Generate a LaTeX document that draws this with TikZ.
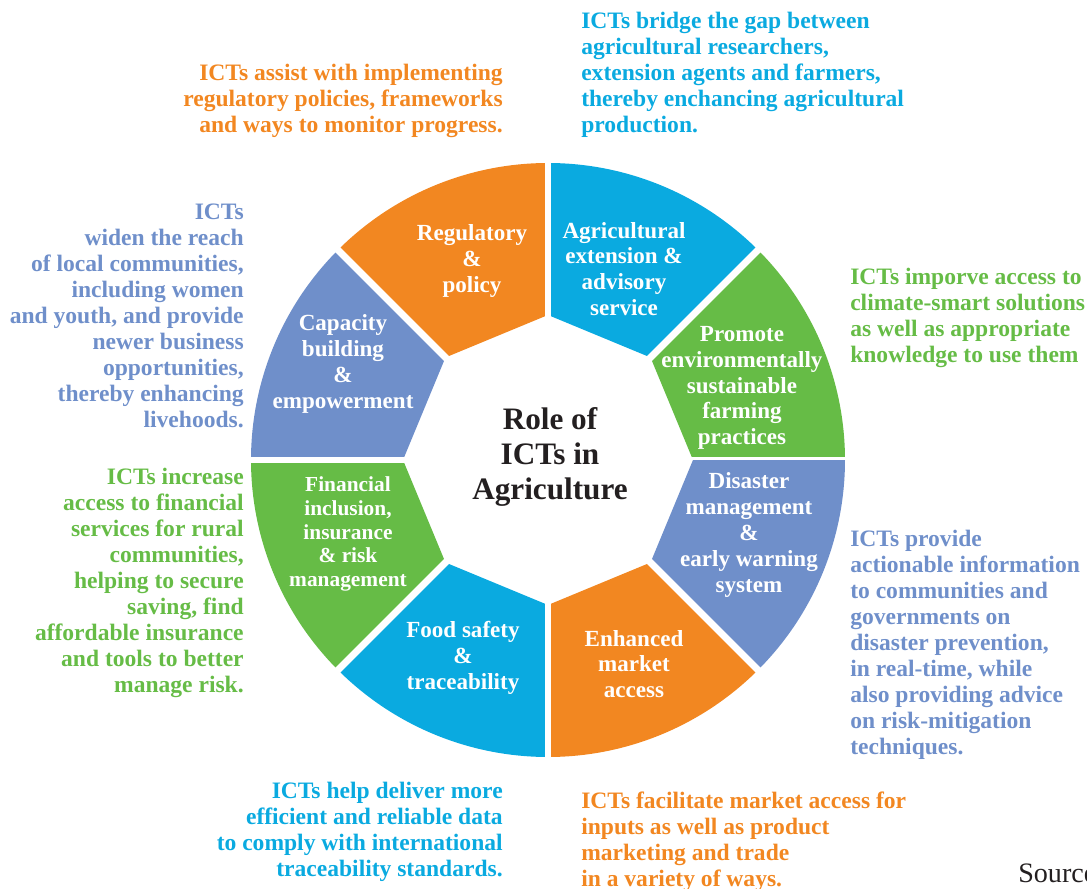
\documentclass[tikz,border=0pt]{standalone}
\usepackage{fontspec}
\setmainfont{Liberation Serif}
\usepackage{xcolor}
\usetikzlibrary{positioning}
\definecolor{RingOrange}{HTML}{F28721}
\definecolor{RingBlue}{HTML}{0AAAE0}
\definecolor{RingGreen}{HTML}{66BC46}
\definecolor{RingSlate}{HTML}{6F8FCA}
\definecolor{TitleText}{HTML}{231F20}
\tikzset{
  ringpart/.style={
    draw=none,
  },
  gapline/.style={
    draw=white,
    line width=4.8pt,
  },
  partlabel/.style={
    inner sep=0pt,
    align=center,
    text=white,
    font=\bfseries\fontsize{16.4}{18.4}\selectfont,
  },
  notetext/.style={
    inner sep=0pt,
    font=\bfseries\fontsize{16.75}{18.5}\selectfont,
  }
}

\begin{document}
\begin{tikzpicture}[x=0.025cm, y=0.025cm]
  \useasboundingbox (-548,-429) rectangle (539,460);

  % ring segments: start angle / colour
  \foreach \a/\c in {0/RingGreen, 45/RingBlue, 90/RingOrange, 135/RingSlate,
                     180/RingGreen, 225/RingBlue, 270/RingOrange, 315/RingSlate} {
    \fill[ringpart, \c] (\a:145) -- (\a:297)
      arc[start angle=\a, end angle=\a+45, radius=297]
      -- (\a+45:145) -- cycle;
    \draw[gapline] (0,0) -- (\a:305);
  }

  \node[
    inner sep=0pt,
    align=center,
    text=TitleText,
    font=\bfseries\fontsize{22.2}{24.8}\selectfont
  ] (title) at (2,3) {Role of\\ICTs in\\Agriculture};

  \node[partlabel] (regulatory) at (-76,199) {Regulatory\\\&\\policy};
  \node[partlabel] (extension) at (76,191) {Agricultural\\extension \&\\advisory\\service};
  \node[partlabel] (promote) at (194,72) {Promote\\environmentally\\sustainable\\farming\\practices};
  \node[partlabel] (disaster) at (201,-75) {Disaster\\management\\\&\\early warning\\system};
  \node[partlabel] (market) at (86,-204) {Enhanced\\market\\access};
  \node[partlabel] (food) at (-85,-198) {Food safety\\\&\\traceability};
  \node[
    partlabel,
    font=\bfseries\fontsize{15.2}{17}\selectfont
  ] (finance) at (-200,-74) {Financial\\inclusion,\\insurance\\\& risk\\management};
  \node[partlabel] (capacity) at (-205,96) {Capacity\\building\\\&\\empowerment};

  % descriptions around the ring
  \node[notetext, text=RingOrange, align=right, anchor=north east] (regnote) at (-45,396) {
    ICTs assist with implementing\\
    regulatory policies, frameworks\\
    and ways to monitor progress.};
  \node[notetext, text=RingBlue, align=left, anchor=north west] (extnote) at (33,448) {
    ICTs bridge the gap between\\
    agricultural researchers,\\
    extension agents and farmers,\\
    thereby enchancing agricultural\\
    production.};
  \node[notetext, text=RingGreen, align=left, anchor=north west] (promnote) at (302,192) {
    ICTs imporve access to\\
    climate-smart solutions\\
    as well as appropriate\\
    knowledge to use them};
  \node[notetext, text=RingSlate, align=left, anchor=north west] (disnote) at (302,-70) {
    ICTs provide\\
    actionable information\\
    to communities and\\
    governments on\\
    disaster prevention,\\
    in real-time, while\\
    also providing advice\\
    on risk-mitigation\\
    techniques.};
  \node[notetext, text=RingOrange, align=left, anchor=north west] (marknote) at (33,-332) {
    ICTs facilitate market access for\\
    inputs as well as product\\
    marketing and trade\\
    in a variety of ways.};
  \node[notetext, text=RingBlue, align=right, anchor=north east] (foodnote) at (-45,-322) {
    ICTs help deliver more\\
    efficient and reliable data\\
    to comply with international\\
    traceability standards.};
  \node[notetext, text=RingGreen, align=right, anchor=north east] (finnote) at (-304,-8) {
    ICTs increase\\
    access to financial\\
    services for rural\\
    communities,\\
    helping to secure\\
    saving, find\\
    affordable insurance\\
    and tools to better\\
    manage risk.};
  \node[notetext, text=RingSlate, align=right, anchor=north east] (capnote) at (-304,256) {
    ICTs\\
    widen the reach\\
    of local communities,\\
    including women\\
    and youth, and provide\\
    newer business\\
    opportunities,\\
    thereby enhancing\\
    livehoods.};

  \node[
    inner sep=0pt,
    anchor=base west,
    text=TitleText,
    font=\fontsize{20}{24}\selectfont
  ] (source) at (470,-422) {Source};
\end{tikzpicture}
\end{document}
